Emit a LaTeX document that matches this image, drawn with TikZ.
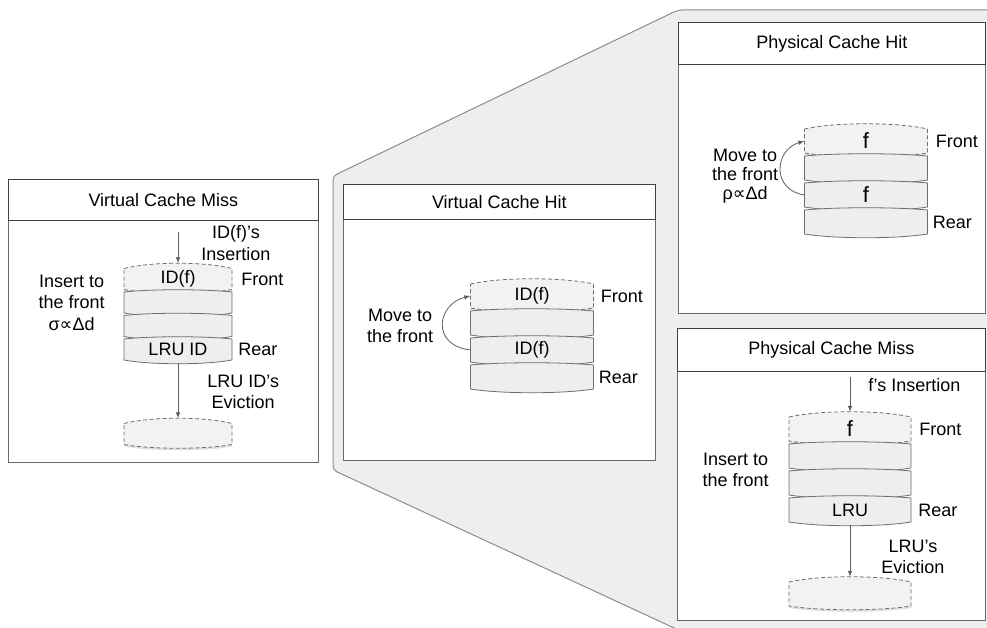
\documentclass[tikz,border=0pt]{standalone}
\usepackage{fontspec}
\setmainfont{Liberation Sans}
\newfontfamily\propfont{DejaVu Sans}
\usetikzlibrary{positioning,arrows.meta,shadows}

\definecolor{zoomgray}{HTML}{EEEEEE}
\definecolor{zoomline}{HTML}{8C8C8C}
\definecolor{boxline}{HTML}{6A6A6A}
\definecolor{slicefill}{HTML}{EEEEEE}
\definecolor{slicetop}{HTML}{F2F2F2}
\definecolor{sliceline}{HTML}{6E6E6E}
\definecolor{arrowgray}{HTML}{5E5E5E}

\tikzset{
  zoomarea/.style={draw=zoomline,fill=zoomgray,line width=1pt,rounded corners=4pt},
  panel/.style={draw=boxline,fill=white,line width=1pt,anchor=north west,inner sep=0pt},
  paneltitle/.style={draw=black!75,line width=0.8pt,anchor=north west,inner sep=0pt},
  slicebody/.style={draw=sliceline,fill=slicefill,line width=0.8pt},
  slicetext/.style={inner sep=0pt},
  dslice/.style={dash pattern=on 4pt off 2.5pt,fill=slicetop},
  softshadow/.style={drop shadow={opacity=0.25,shadow xshift=0pt,shadow yshift=-2pt}},
  lbl/.style={inner sep=1pt,align=center},
  flow/.style={draw=arrowgray,line width=0.8pt,-{Latex[length=6pt,width=4.5pt]}}
}

\newcommand{\slicew}{108}
\newcommand{\sliceh}{21}
% one slice of a stack: [top bow]{name}{centre}{style}{text}
\newcommand{\slice}[5][3]{%
  \begin{scope}[shift={(#3)}]
    \draw[slicebody,#4] (-\slicew/2,-\sliceh/2)
      .. controls (-\slicew/4,-\sliceh/2-#1) and (\slicew/4,-\sliceh/2-#1) .. (\slicew/2,-\sliceh/2)
      -- (\slicew/2,\sliceh/2)
      .. controls (\slicew/4,\sliceh/2+5) and (-\slicew/4,\sliceh/2+5) .. (-\slicew/2,\sliceh/2) -- cycle;
    \node[slicetext,minimum width=\slicew pt,minimum height=\sliceh pt] (#2) at (0,0) {#5};
  \end{scope}}

\begin{document}
\begin{tikzpicture}[x=1pt,y=-1pt,font=\fontsize{18}{21.6}\selectfont]
\useasboundingbox (0,0) rectangle (987,628);
\clip (0,0) rectangle (987,628);

% zoomed area behind the right panels
\draw[zoomarea] (333,176) -- (678,10) -- (995,10) -- (995,640) -- (700,640) -- (333,470) -- cycle;

% panels
\node[panel,minimum width=310pt,minimum height=283pt] (vmiss) at (8,179) {};
\node[paneltitle,minimum width=310pt,minimum height=41pt] (vmisst) at (8,179) {Virtual Cache Miss};
\node[panel,minimum width=312pt,minimum height=276pt] (vhit) at (343,184) {};
\node[paneltitle,minimum width=312pt,minimum height=35pt] (vhitt) at (343,184) {Virtual Cache Hit};
\node[panel,minimum width=307pt,minimum height=291pt] (phit) at (678,22) {};
\node[paneltitle,minimum width=307pt,minimum height=42pt] (phitt) at (678,22) {Physical Cache Hit};
\node[panel,minimum width=308pt,minimum height=292pt] (pmiss) at (677,328) {};
\node[paneltitle,minimum width=308pt,minimum height=43pt] (pmisst) at (677,328) {Physical Cache Miss};

% virtual cache miss
\slice[7]{vm1}{178,279}{dslice,softshadow}{ID(f)}
\slice{vm2}{178,302.5}{}{}
\slice{vm3}{178,326}{}{}
\slice{vm4}{178,349.5}{}{LRU ID}
\slice[7]{vmev}{178,434}{dslice,softshadow}{}
\node[lbl,right=8pt of vm1] (vmfront) {Front};
\node[lbl,right=5pt of vm4] (vmrear) {Rear};
\node[lbl,left=18pt of vm2] (vminsert) {Insert to\\the front\\σ{\propfont ∝}Δd};
\coordinate (vmin) at (178,232);
\draw[flow,shorten >=5pt] (vmin) -- node[lbl,pos=0.3,right=22pt] {ID(f)'s\\Insertion} (vm1);
\draw[flow,shorten <=3pt,shorten >=5pt] (vm4) -- node[lbl,midway,right=28pt] {LRU ID's\\Eviction} (vmev);

% virtual cache hit
\renewcommand{\slicew}{123}\renewcommand{\sliceh}{24}
\slice[7]{vh1}{532,296}{dslice,softshadow}{ID(f)}
\slice{vh2}{532,323}{}{}
\slice{vh3}{532,350}{}{ID(f)}
\slice{vh4}{532,377}{}{}
\node[lbl,right=6pt of vh1] (vhfront) {Front};
\node[lbl,right=4pt of vh4] (vhrear) {Rear};
\node[lbl,left=36pt of vh2,yshift=-3pt] (vhmove) {Move to\\the front};
\draw[flow] (vh3.west) .. controls +(-40,-5) and +(-33,8) .. (vh1.west);

% physical cache hit
\slice[7]{ph1}{866,141}{dslice,softshadow}{\fontsize{22}{24}\selectfont f}
\slice{ph2}{866,168}{}{}
\slice{ph3}{866,195}{}{\fontsize{22}{24}\selectfont f}
\slice{ph4}{866,222}{}{}
\node[lbl,right=7pt of ph1] (phfront) {Front};
\node[lbl,right=4pt of ph4] (phrear) {Rear};
\node[lbl,left=25pt of ph2,yshift=-8pt,font=\fontsize{18}{19.3}\selectfont] (phmove) {Move to\\the front\\ρ{\propfont ∝}Δd};
\draw[flow] (ph3.west) .. controls +(-33,-5) and +(-30,9) .. (ph1.west);

% physical cache miss
\renewcommand{\slicew}{122}
\slice[7]{pm1}{850,429}{dslice,softshadow}{\fontsize{22}{24}\selectfont f}
\slice{pm2}{850,456}{}{}
\slice{pm3}{850,483}{}{}
\slice{pm4}{850,510}{}{LRU}
\slice[7]{pmev}{850,594}{dslice,softshadow}{}
\node[lbl,right=7pt of pm1] (pmfront) {Front};
\node[lbl,right=6pt of pm4] (pmrear) {Rear};
\node[lbl,left=19pt of pm2,yshift=-14pt] (pminsert) {Insert to\\the front};
\coordinate (pmin) at (850,377);
\draw[flow,shorten >=5pt] (pmin) -- node[lbl,pos=0.2,right=17pt] {f's Insertion} (pm1);
\draw[flow,shorten <=3pt,shorten >=5pt] (pm4) -- node[lbl,midway,right=30pt,yshift=-5pt] {LRU's\\Eviction} (pmev);
\end{tikzpicture}
\end{document}
